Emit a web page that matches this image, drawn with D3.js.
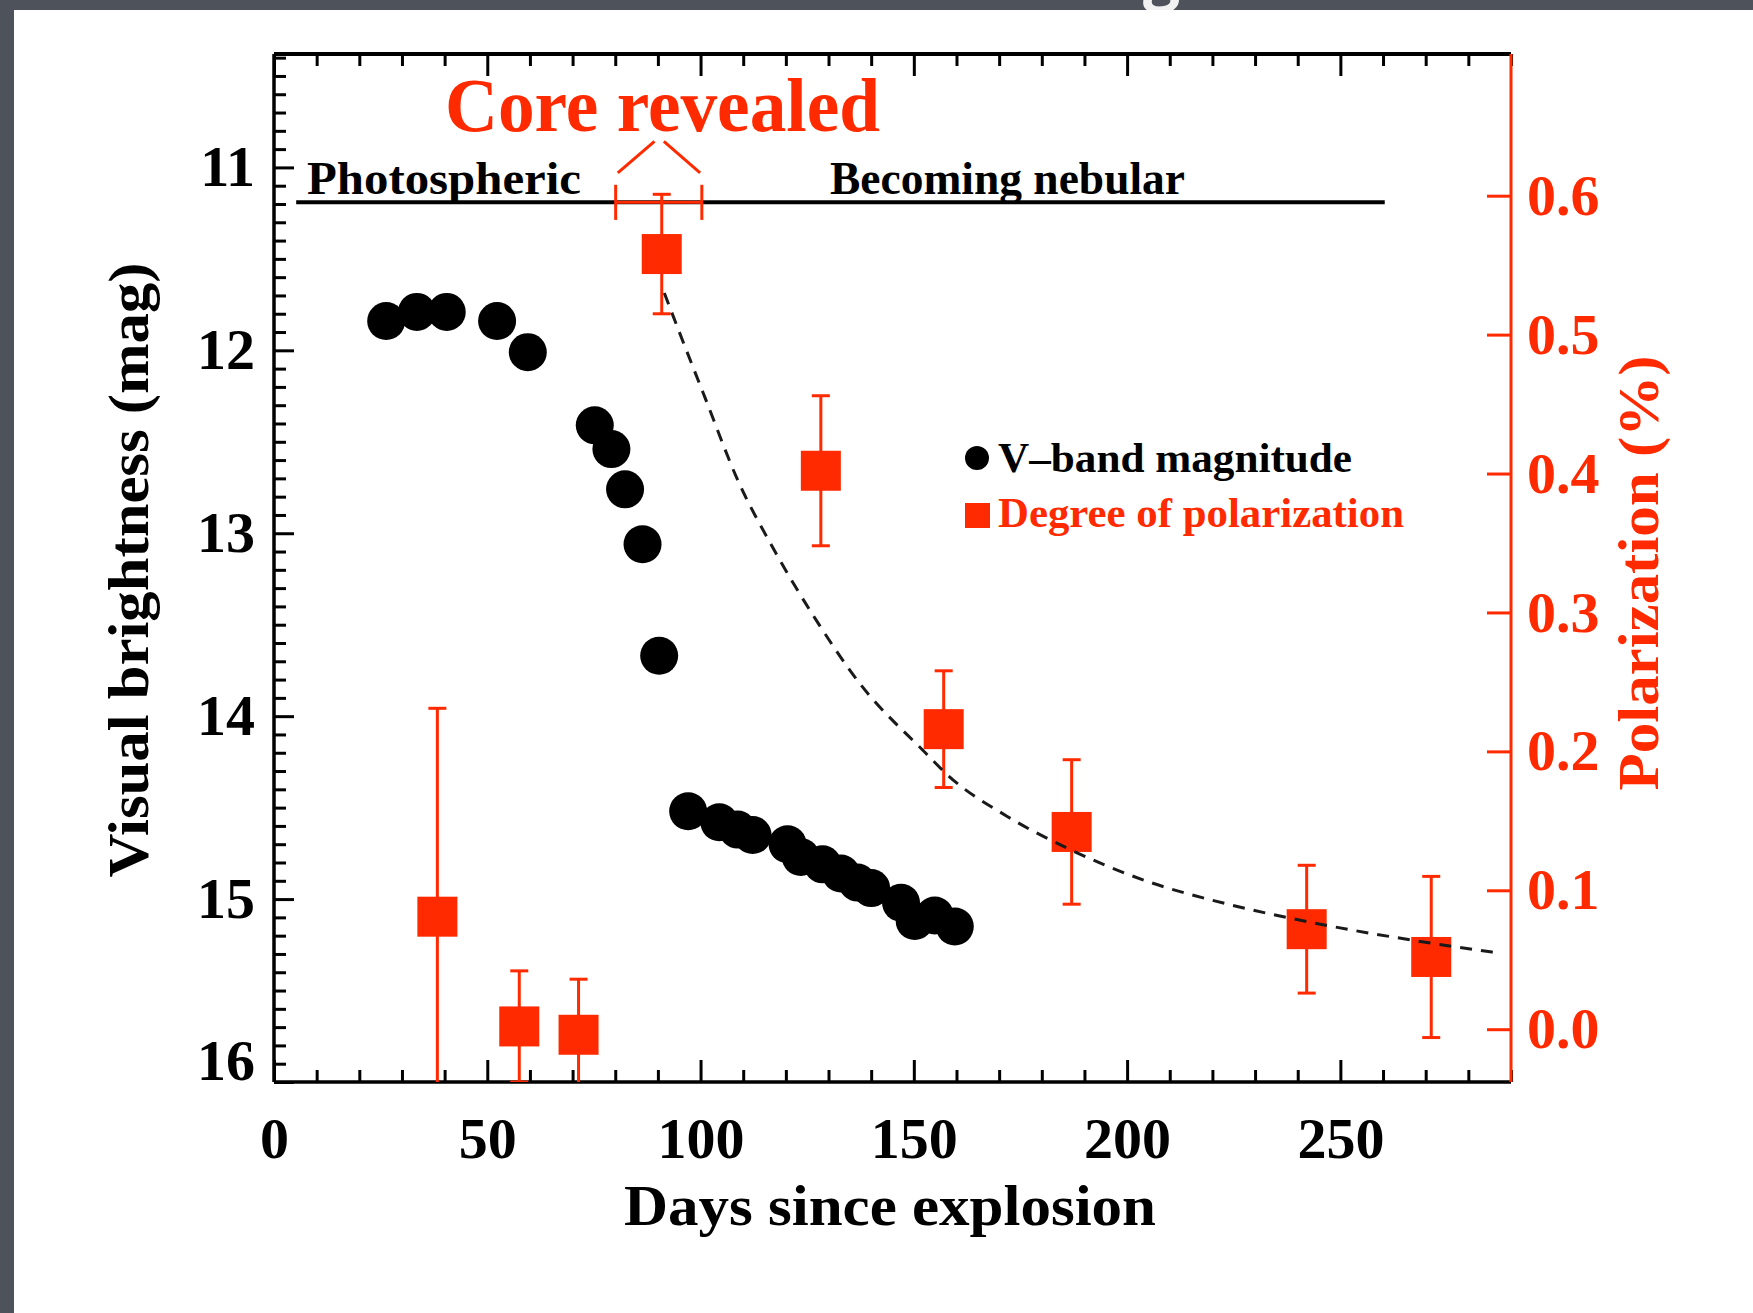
<!DOCTYPE html>
<html>
<head>
<meta charset="utf-8">
<script src="https://cdn.jsdelivr.net/npm/d3@7"></script>
<style>
    html, body { margin: 0; padding: 0; background: #4e525a; }
    svg { display: block; }
    text { font-family: "Liberation Serif", "Times New Roman", serif; font-weight: bold; }
</style>
</head>
<body>
<svg id="chart" width="1753" height="1313"></svg>
<script>
"use strict";

// V-band magnitude (days since explosion, mag)
var vDays = [26.3, 33.5, 40.5, 52.3, 59.5, 75.2, 79.1, 82.3, 86.4, 90.3, 97.1, 104.4,
    108.7, 112.2, 120.4, 123.5, 128.6, 132.9, 136.8, 140.0, 147.0, 150.2, 154.9, 159.6];
var vMag = [11.84, 11.79, 11.79, 11.84, 12.01, 12.41, 12.54, 12.76, 13.06, 13.67, 14.52, 14.58,
    14.62, 14.65, 14.70, 14.77, 14.81, 14.86, 14.91, 14.94, 15.02, 15.12, 15.09, 15.15];

// degree of polarization (%) with 1-sigma errors
var polDays = [38.3, 57.5, 71.4, 90.9, 128.2, 157.0, 187.0, 242.1, 271.3];
var polVal = [0.081, 0.002, -0.004, 0.558, 0.402, 0.216, 0.142, 0.072, 0.052];
var polErr = [0.150, 0.040, 0.040, 0.043, 0.054, 0.042, 0.052, 0.046, 0.058];

// dashed decay curve
var fitDays = [91.5, 95, 101, 108.9, 116.7, 127, 137.3, 152.7, 157.9, 172, 186.2, 204.2, 223.6, 243, 271.2, 286.7];
var fitPol = [0.530, 0.502, 0.455, 0.394, 0.348, 0.295, 0.249, 0.199, 0.183, 0.153, 0.130, 0.107, 0.090, 0.077, 0.062, 0.055];

var xTicks = [0, 50, 100, 150, 200, 250];
var magTicks = [11, 12, 13, 14, 15, 16];
var polTicks = [0.0, 0.1, 0.2, 0.3, 0.4, 0.5, 0.6];

// phase annotations
var phaseLine = [5.2, 260.4];
var phaseMag = 11.19;
var coreRange = [80.1, 100.3];

var red = "#ff2a00";
var plotL = 274, plotR = 1511, plotT = 54, plotB = 1082;

var svg = d3.select("#chart");

var x = d3.scaleLinear().domain([0, 290]).range([plotL, plotR]);
var yMag = d3.scaleLinear().domain([10.38, 16.0]).range([plotT, plotB]);
var yPol = d3.scaleLinear().domain([-0.038, 0.702]).range([plotB, plotT]);

// slide background + panel (the slide title above is cut off, only a descender shows)
svg.append("rect").attr("width", 1753).attr("height", 1313).attr("fill", "#4e525a");
svg.append("text")
    .attr("x", 1143).attr("y", -3)
    .style("font-family", "'Open Sans', sans-serif")
    .style("font-size", "66px")
    .attr("fill", "#f2f2f2")
    .text("g");
svg.append("rect")
    .attr("x", 14).attr("y", 10)
    .attr("width", 1753 - 14).attr("height", 1313 - 10)
    .attr("fill", "#ffffff");

svg.append("clipPath").attr("id", "plotClip")
    .append("rect")
    .attr("x", plotL).attr("y", plotT)
    .attr("width", plotR - plotL).attr("height", plotB - plotT);

function styleAxis(g, color, size) {
    g.select(".domain").remove();
    g.selectAll(".tick line").attr("stroke", color).attr("stroke-width", 3);
    g.selectAll(".tick text")
        .attr("fill", color)
        .style("font-size", size + "px");
    return g;
};

function minorValues(lo, hi, step, majorStep) {
    var vals = [];
    for (var v = lo; v <= hi + 1e-9; v += step) {
        var r = Math.round(v * 1000) / 1000;
        if (Math.abs(r / majorStep - Math.round(r / majorStep)) > 1e-6) {
            vals.push(r);
        }
    }
    return vals;
};

// bottom + top axes
var xMinor = minorValues(10, 290, 10, 50);
svg.append("g")
    .attr("transform", "translate(0," + plotB + ")")
    .call(d3.axisBottom(x).tickValues(xTicks).tickSize(-22).tickPadding(35).tickFormat(d3.format("d")))
    .call(styleAxis, "#000", 58);
svg.append("g")
    .attr("transform", "translate(0," + plotB + ")")
    .call(d3.axisBottom(x).tickValues(xMinor).tickSize(-12).tickFormat(""))
    .call(styleAxis, "#000", 10);
svg.append("g")
    .attr("transform", "translate(0," + plotT + ")")
    .call(d3.axisTop(x).tickValues(xTicks).tickSize(-22).tickFormat(""))
    .call(styleAxis, "#000", 10);
svg.append("g")
    .attr("transform", "translate(0," + plotT + ")")
    .call(d3.axisTop(x).tickValues(xMinor).tickSize(-12).tickFormat(""))
    .call(styleAxis, "#000", 10);

// left magnitude axis
var magAxis = svg.append("g")
    .attr("transform", "translate(" + plotL + ",0)")
    .call(d3.axisLeft(yMag).tickValues(magTicks).tickSize(-20).tickPadding(19).tickFormat(d3.format("d")))
    .call(styleAxis, "#000", 58);
magAxis.selectAll(".tick text")
    .filter(function(d) { return d === 16; })
    .attr("dy", "-0.05em");
svg.append("g")
    .attr("transform", "translate(" + plotL + ",0)")
    .call(d3.axisLeft(yMag).tickValues(minorValues(10.4, 16, 0.1, 1)).tickSize(-12).tickFormat(""))
    .call(styleAxis, "#000", 10);

// right polarization axis
svg.append("g")
    .attr("transform", "translate(" + plotR + ",0)")
    .call(d3.axisRight(yPol).tickValues(polTicks).tickSize(-24).tickPadding(16).tickFormat(d3.format(".1f")))
    .call(styleAxis, red, 58);

// frame
svg.append("line").attr("x1", plotL).attr("x2", plotR).attr("y1", plotT).attr("y2", plotT)
    .attr("stroke", "#000").attr("stroke-width", 4);
svg.append("line").attr("x1", plotL).attr("x2", plotR).attr("y1", plotB).attr("y2", plotB)
    .attr("stroke", "#000").attr("stroke-width", 3.5);
svg.append("line").attr("x1", plotL).attr("x2", plotL).attr("y1", plotT).attr("y2", plotB)
    .attr("stroke", "#000").attr("stroke-width", 3.5);
svg.append("line").attr("x1", plotR).attr("x2", plotR).attr("y1", plotT).attr("y2", plotB)
    .attr("stroke", red).attr("stroke-width", 3);

// axis titles
svg.append("text")
    .attr("x", 890).attr("y", 1225)
    .attr("text-anchor", "middle")
    .attr("textLength", 532).attr("lengthAdjust", "spacingAndGlyphs")
    .style("font-size", "58px")
    .text("Days since explosion");
svg.append("text")
    .attr("transform", "translate(148,570) rotate(-90)")
    .attr("text-anchor", "middle")
    .attr("textLength", 615).attr("lengthAdjust", "spacingAndGlyphs")
    .style("font-size", "58px")
    .text("Visual brightness (mag)");
svg.append("text")
    .attr("transform", "translate(1658,573) rotate(-90)")
    .attr("text-anchor", "middle")
    .attr("textLength", 435).attr("lengthAdjust", "spacingAndGlyphs")
    .attr("fill", red)
    .style("font-size", "56px")
    .text("Polarization (%)");

// phase annotations
var annot = svg.append("g");
annot.append("line")
    .attr("x1", x(phaseLine[0])).attr("x2", x(phaseLine[1]))
    .attr("y1", yMag(phaseMag)).attr("y2", yMag(phaseMag))
    .attr("stroke", "#000").attr("stroke-width", 4);
annot.append("text")
    .attr("x", 307).attr("y", 194)
    .attr("textLength", 274).attr("lengthAdjust", "spacingAndGlyphs")
    .style("font-size", "47px")
    .text("Photospheric");
annot.append("text")
    .attr("x", 830).attr("y", 194)
    .attr("textLength", 355).attr("lengthAdjust", "spacingAndGlyphs")
    .style("font-size", "46px")
    .text("Becoming nebular");
annot.append("text")
    .attr("x", 445).attr("y", 131)
    .attr("textLength", 435).attr("lengthAdjust", "spacingAndGlyphs")
    .attr("fill", red)
    .style("font-size", "76px")
    .text("Core revealed");

var bracket = annot.append("g").attr("stroke", red).attr("stroke-width", 3).attr("fill", "none");
bracket.append("line")
    .attr("x1", x(coreRange[0])).attr("x2", x(coreRange[1]))
    .attr("y1", yMag(phaseMag)).attr("y2", yMag(phaseMag));
coreRange.forEach(function(d) {
    bracket.append("line")
        .attr("x1", x(d)).attr("x2", x(d))
        .attr("y1", yMag(11.095)).attr("y2", yMag(11.287));
});
bracket.append("line")
    .attr("x1", x(80.6)).attr("y1", yMag(11.03))
    .attr("x2", x(89.2)).attr("y2", yMag(10.858));
bracket.append("line")
    .attr("x1", x(91.4)).attr("y1", yMag(10.858))
    .attr("x2", x(99.9)).attr("y2", yMag(11.03));

// data
var plot = svg.append("g").attr("clip-path", "url(#plotClip)");

plot.selectAll("circle.vband")
    .data(d3.range(vDays.length))
    .enter().append("circle")
    .attr("class", "vband")
    .attr("cx", function(i) { return x(vDays[i]); })
    .attr("cy", function(i) { return yMag(vMag[i]); })
    .attr("r", 19)
    .attr("fill", "#000");

var pol = plot.selectAll("g.pol")
    .data(d3.range(polDays.length))
    .enter().append("g")
    .attr("class", "pol");
pol.append("line")
    .attr("x1", function(i) { return x(polDays[i]); })
    .attr("x2", function(i) { return x(polDays[i]); })
    .attr("y1", function(i) { return yPol(polVal[i] - polErr[i]); })
    .attr("y2", function(i) { return yPol(polVal[i] + polErr[i]); })
    .attr("stroke", red).attr("stroke-width", 3);
[-1, 1].forEach(function(sgn) {
    pol.append("line")
        .attr("x1", function(i) { return x(polDays[i]) - 9; })
        .attr("x2", function(i) { return x(polDays[i]) + 9; })
        .attr("y1", function(i) { return yPol(polVal[i] + sgn * polErr[i]); })
        .attr("y2", function(i) { return yPol(polVal[i] + sgn * polErr[i]); })
        .attr("stroke", red).attr("stroke-width", 3);
});
pol.append("rect")
    .attr("x", function(i) { return x(polDays[i]) - 20; })
    .attr("y", function(i) { return yPol(polVal[i]) - 20; })
    .attr("width", 40).attr("height", 40)
    .attr("fill", red);

var fitLine = d3.line()
    .curve(d3.curveMonotoneX)
    .x(function(i) { return x(fitDays[i]); })
    .y(function(i) { return yPol(fitPol[i]); });
plot.append("path")
    .attr("d", fitLine(d3.range(fitDays.length)))
    .attr("fill", "none")
    .attr("stroke", "#1a1a1a")
    .attr("stroke-width", 3)
    .attr("stroke-dasharray", "12,9");

// legend
var legend = svg.append("g");
legend.append("circle").attr("cx", 977).attr("cy", 458).attr("r", 12).attr("fill", "#000");
legend.append("text")
    .attr("x", 998).attr("y", 472)
    .attr("textLength", 354).attr("lengthAdjust", "spacingAndGlyphs")
    .style("font-size", "42px")
    .text("V\u2013band magnitude");
legend.append("rect").attr("x", 965).attr("y", 503).attr("width", 25).attr("height", 25).attr("fill", red);
legend.append("text")
    .attr("x", 998).attr("y", 527)
    .attr("textLength", 406).attr("lengthAdjust", "spacingAndGlyphs")
    .attr("fill", red)
    .style("font-size", "42px")
    .text("Degree of polarization");
</script>
</body>
</html>
